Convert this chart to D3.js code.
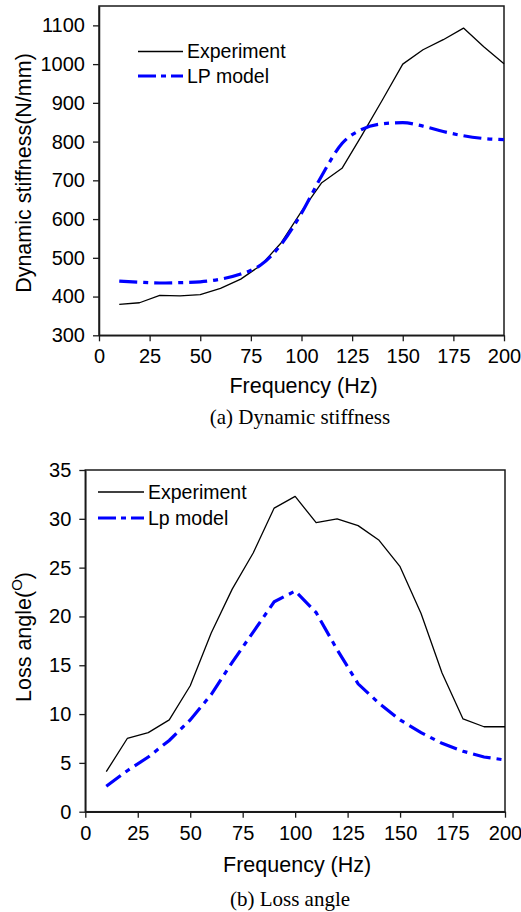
<!DOCTYPE html>
<html>
<head>
<meta charset="utf-8">
<script src="https://cdn.jsdelivr.net/npm/d3@7"></script>
<style>
  html, body { margin: 0; padding: 0; background: #fff; }
  svg { display: block; }
  text { font-family: Arial, "Liberation Sans", sans-serif; fill: #000; }
</style>
</head>
<body>
<svg id="chart" width="521" height="912"></svg>
<script>
// ---------- data ----------
const freq = [10, 20, 30, 40, 50, 60, 70, 80, 90, 100, 110, 120, 130, 140, 150, 160, 170, 180, 190, 200];

// (a) Dynamic stiffness (N/mm)
const stiffExperiment = [380, 384, 403, 402, 405, 421, 445, 481, 539, 620, 694, 731, 818, 908, 1000, 1037, 1063, 1093, 1045, 1001];
const stiffLP = [440, 437, 435, 436, 438, 445, 458, 482, 535, 615, 712, 795, 832, 846, 849, 840, 826, 815, 808, 805];

// (b) Loss angle (deg)
const lossExperiment = [4.1, 7.5, 8.1, 9.4, 12.9, 18.3, 22.8, 26.5, 31.1, 32.3, 29.6, 30.0, 29.3, 27.8, 25.1, 20.3, 14.2, 9.5, 8.7, 8.7];
const lossLP = [2.6, 4.2, 5.6, 7.3, 9.4, 12.0, 15.3, 18.4, 21.5, 22.6, 20.4, 16.6, 13.1, 11.1, 9.4, 8.1, 7.0, 6.2, 5.6, 5.3];

const xTicks = [0, 25, 50, 75, 100, 125, 150, 175, 200];
const stiffTicks = [300, 400, 500, 600, 700, 800, 900, 1000, 1100];
const lossTicks = [0, 5, 10, 15, 20, 25, 30, 35];

const seriesNames = ["Experiment", "LP model"];
const seriesNamesB = ["Experiment", "Lp model"];

// ---------- drawing ----------
const svg = d3.select("#chart");
const BLUE = "#0000ff";
const DASH = "18,6,5,6";

function panel(cfg) {
  const g = svg.append("g");
  const x = d3.scaleLinear().domain([0, 200]).range([cfg.left, cfg.right]);
  const y = d3.scaleLinear().domain(cfg.yDomain).range([cfg.bottom, cfg.top]);

  // frame
  g.append("rect")
    .attr("x", cfg.left).attr("y", cfg.top)
    .attr("width", cfg.right - cfg.left).attr("height", cfg.bottom - cfg.top)
    .attr("fill", "none").attr("stroke", "#1a1a1a").attr("stroke-width", 1.5);

  // axes
  const fmt = d3.format("d");
  const xa = g.append("g").attr("transform", `translate(0,${cfg.bottom})`)
    .call(d3.axisBottom(x).tickValues(xTicks).tickFormat(fmt).tickSize(6).tickPadding(8).tickSizeOuter(0));
  const ya = g.append("g").attr("transform", `translate(${cfg.left},0)`)
    .call(d3.axisLeft(y).tickValues(cfg.yTicks).tickFormat(fmt).tickSize(6).tickPadding(8).tickSizeOuter(0));
  [xa, ya].forEach(a => {
    a.select(".domain").attr("stroke", "#1a1a1a").attr("stroke-width", 1.5);
    a.selectAll(".tick line").attr("stroke", "#1a1a1a").attr("stroke-width", 1.3);
    a.selectAll(".tick text").attr("font-size", 20).attr("font-family", "Arial, 'Liberation Sans', sans-serif").attr("fill", "#000");
  });

  const line = d3.line().x((d, i) => x(freq[i])).y(d => y(d));
  const smooth = d3.line().x((d, i) => x(freq[i])).y(d => y(d)).curve(d3.curveMonotoneX);

  g.append("path").datum(cfg.exp).attr("d", line)
    .attr("fill", "none").attr("stroke", "#000").attr("stroke-width", 1.3).attr("stroke-linejoin", "round");
  g.append("path").datum(cfg.lp).attr("d", cfg.smoothLP ? smooth : line)
    .attr("fill", "none").attr("stroke", BLUE).attr("stroke-width", 3.2).attr("stroke-dasharray", DASH);

  // legend
  const lg = g.append("g");
  cfg.names.forEach((name, i) => {
    const ly = cfg.legY[i];
    lg.append("line").attr("x1", cfg.legX[0]).attr("x2", cfg.legX[1]).attr("y1", ly).attr("y2", ly)
      .attr("stroke", i === 0 ? "#000" : BLUE)
      .attr("stroke-width", i === 0 ? 1.3 : 3.2)
      .attr("stroke-dasharray", i === 0 ? null : "18,5,5,5");
    lg.append("text").attr("x", cfg.legX[1] + 4).attr("y", ly).attr("dy", "0.35em")
      .attr("font-size", cfg.legFont).text(name);
  });

  // x title
  g.append("text").attr("x", (cfg.left + cfg.right) / 2 + 2).attr("y", cfg.xTitleY)
    .attr("text-anchor", "middle").attr("font-size", 21.5).text("Frequency (Hz)");

  // caption
  g.append("text").attr("x", cfg.capX).attr("y", cfg.capY)
    .attr("text-anchor", "middle").attr("font-size", 21)
    .style("font-family", "'Times New Roman', 'Liberation Serif', serif").text(cfg.caption);

  return { g, x, y };
}

// Panel (a)
const pa = panel({
  left: 99, right: 504, top: 6, bottom: 335.3,
  yDomain: [300, 1150], yTicks: stiffTicks,
  exp: stiffExperiment, lp: stiffLP, smoothLP: true,
  names: seriesNames, legX: [138, 183], legY: [51.5, 76], legFont: 19.5,
  xTitleY: 393, capX: 300, capY: 424, caption: "(a) Dynamic stiffness"
});
pa.g.append("text")
  .attr("transform", "translate(31,173) rotate(-90)")
  .attr("text-anchor", "middle").attr("font-size", 21.5)
  .text("Dynamic stiffness(N/mm)");

// Panel (b)
const pb = panel({
  left: 85.3, right: 505, top: 470, bottom: 811.7,
  yDomain: [0, 35], yTicks: lossTicks,
  exp: lossExperiment, lp: lossLP, smoothLP: false,
  names: seriesNamesB, legX: [98, 144], legY: [492, 518], legFont: 19.5,
  xTitleY: 872, capX: 290, capY: 906, caption: "(b) Loss angle"
});
const yt = pb.g.append("text")
  .attr("transform", "translate(31,637) rotate(-90)")
  .attr("text-anchor", "middle").attr("font-size", 21.5);
yt.append("tspan").text("Loss angle(");
yt.append("tspan").attr("dy", -9).attr("font-size", 15).text("O");
yt.append("tspan").attr("dy", 9).text(")");
</script>
</body>
</html>
